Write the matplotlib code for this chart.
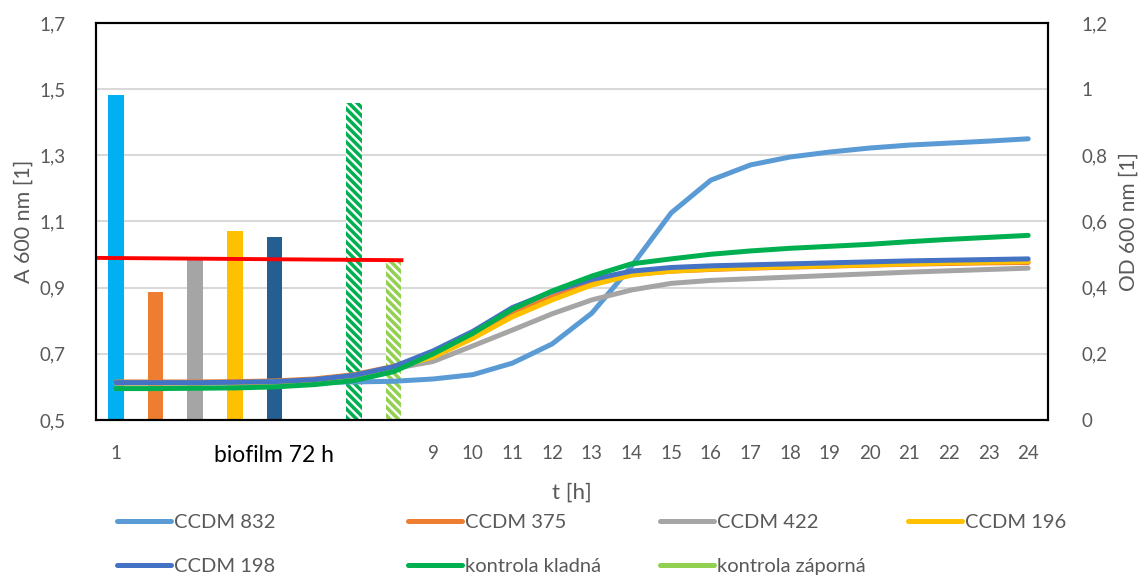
import matplotlib
matplotlib.use("Agg")
import matplotlib.pyplot as plt

plt.rcParams['font.family'] = ['Lato', 'DejaVu Sans']
plt.rcParams['hatch.linewidth'] = 1.7

# kategorie na ose x
hours = list(range(1, 25))
xlabels = ['1', '', '', '', 'biofilm 72 h', '', '', ''] + [str(h) for h in range(9, 25)]

# sloupce - biofilm 72 h (leva osa)
bar_pos = [1, 2, 3, 4, 5, 7, 8]
bar_vals = [1.482, 0.887, 0.984, 1.071, 1.053, 1.458, 0.978]
bar_colors = ['#00B0F0', '#ED7D31', '#A5A5A5', '#FFC000', '#255E91', '#00B050', '#92D050']
bar_hatch = [None, None, None, None, None, '\\\\\\\\', '\\\\\\\\']

# cervena cara (leva osa)
red_x = [0.5, 8.2]
red_vals = [0.99, 0.983]

# rustove krivky OD 600 (prava osa)
ccdm832 = [0.112, 0.112, 0.112, 0.112, 0.113, 0.114, 0.115, 0.117, 0.124, 0.137, 0.172, 0.230,
           0.323, 0.465, 0.626, 0.725, 0.771, 0.795, 0.810, 0.822, 0.831, 0.837, 0.843, 0.850]
ccdm375 = [0.115, 0.115, 0.115, 0.116, 0.118, 0.124, 0.137, 0.162, 0.200, 0.255, 0.322, 0.372,
           0.414, 0.440, 0.450, 0.455, 0.459, 0.462, 0.465, 0.468, 0.471, 0.473, 0.475, 0.476]
ccdm422 = [0.112, 0.112, 0.112, 0.113, 0.115, 0.121, 0.134, 0.155, 0.177, 0.224, 0.272, 0.321,
           0.363, 0.393, 0.413, 0.422, 0.427, 0.432, 0.437, 0.442, 0.447, 0.451, 0.455, 0.459]
ccdm196 = [0.112, 0.112, 0.112, 0.113, 0.115, 0.121, 0.134, 0.158, 0.190, 0.247, 0.312, 0.363,
           0.408, 0.438, 0.450, 0.456, 0.460, 0.463, 0.466, 0.469, 0.472, 0.475, 0.477, 0.479]
ccdm198 = [0.113, 0.113, 0.113, 0.114, 0.116, 0.122, 0.135, 0.161, 0.209, 0.268, 0.340, 0.388,
           0.425, 0.450, 0.461, 0.466, 0.469, 0.472, 0.475, 0.478, 0.481, 0.483, 0.485, 0.487]
kladna = [0.095, 0.095, 0.096, 0.097, 0.100, 0.107, 0.119, 0.146, 0.200, 0.262, 0.335, 0.390,
          0.435, 0.472, 0.487, 0.501, 0.511, 0.519, 0.525, 0.531, 0.539, 0.546, 0.552, 0.558]
zaporna = []

series = [
    ('CCDM 832', ccdm832, '#5B9BD5'),
    ('CCDM 375', ccdm375, '#ED7D31'),
    ('CCDM 422', ccdm422, '#A5A5A5'),
    ('CCDM 196', ccdm196, '#FFC000'),
    ('CCDM 198', ccdm198, '#4472C4'),
    ('kontrola kladná', kladna, '#00B050'),
    ('kontrola záporná', zaporna, '#92D050'),
]

txt = '#595959'
fig = plt.figure(figsize=(11.47, 5.77), dpi=100)
ax = fig.add_axes([96 / 1147, 1 - 420 / 577, 952 / 1147, 397 / 577])
ax2 = ax.twinx()

for p, v, c, h in zip(bar_pos, bar_vals, bar_colors, bar_hatch):
    if h:
        ax.bar(p, v - 0.5, bottom=0.5, width=0.4, color=c, edgecolor='white', hatch=h,
               linewidth=0, zorder=2)
    else:
        ax.bar(p, v - 0.5, bottom=0.5, width=0.4, color=c, linewidth=0, zorder=2)

ax.plot(red_x, red_vals, color='#FF0000', lw=2.8, zorder=3)

handles = []
for name, vals, c in series:
    ln, = ax2.plot(hours[:len(vals)], vals, color=c, lw=3.6, solid_capstyle='round', label=name)
    handles.append(ln)

ax.set_xlim(0.5, 24.5)
ax.set_ylim(0.5, 1.7)
ax2.set_ylim(0, 1.2)
ax.set_yticks([0.5, 0.7, 0.9, 1.1, 1.3, 1.5, 1.7])
ax.set_yticklabels(['0,5', '0,7', '0,9', '1,1', '1,3', '1,5', '1,7'])
ax2.set_yticks([0, 0.2, 0.4, 0.6, 0.8, 1.0, 1.2])
ax2.set_yticklabels(['0', '0,2', '0,4', '0,6', '0,8', '1', '1,2'])
ax.set_xticks(hours)
ax.set_xticklabels(xlabels)
ax.grid(axis='y', color='#D9D9D9', lw=1.5, zorder=0)
ax.set_axisbelow(True)

for a in (ax, ax2):
    a.tick_params(length=0, labelsize=13.5, labelcolor=txt)
    for s in a.spines.values():
        s.set_color('black')
        s.set_linewidth(1.5)
ax.tick_params(axis='y', pad=22)
ax2.tick_params(axis='y', pad=24)
ax.tick_params(axis='x', pad=18)
lbl = ax.get_xticklabels()[4]
lbl.set_color('black')
lbl.set_fontsize(16.5)

ax.set_ylabel('A 600 nm [1]', fontsize=15.5, color=txt, labelpad=4)
ax2.set_ylabel('OD 600 nm [1]', fontsize=15, color=txt, labelpad=8)
ax.set_xlabel('t [h]', fontsize=16, color=txt, labelpad=12)

# legenda po sloupcich jako v Excelu
cols = [[0, 4], [1, 5], [2, 6], [3]]
col_x = [117, 408, 660, 908]
for idx, x0 in zip(cols, col_x):
    leg = fig.legend([handles[i] for i in idx], [series[i][0] for i in idx],
                     loc='upper left', bbox_to_anchor=(x0 / 1147, 1 - 514 / 577),
                     frameon=False, fontsize=14.5, handlelength=2.7, handletextpad=0.15,
                     labelspacing=1.35, borderpad=0, borderaxespad=0, labelcolor=txt)

fig.savefig('out.png', dpi=100)
